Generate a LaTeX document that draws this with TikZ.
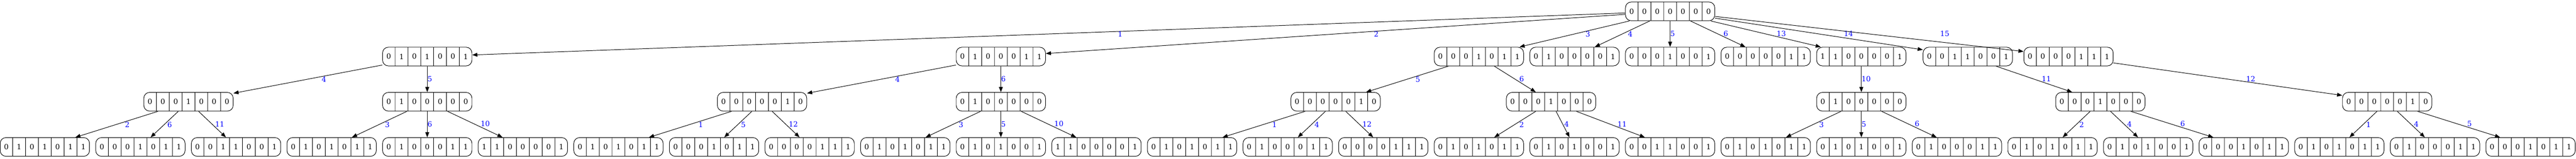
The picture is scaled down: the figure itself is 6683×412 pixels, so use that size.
\documentclass[tikz,border=0pt]{standalone}
\usepackage{fontspec}
\setmainfont{DejaVu Serif}
\usetikzlibrary{shapes.multipart,arrows.meta}

\newcommand{\bitrow}[7]{#1\nodepart{two}#2\nodepart{three}#3\nodepart{four}#4\nodepart{five}#5\nodepart{six}#6\nodepart{seven}#7}

\tikzset{
  bits/.style={draw, rectangle split, rectangle split horizontal, rectangle split parts=7,
    rounded corners=7.5pt, line width=0.65pt, text width=16pt, align=center,
    inner xsep=0pt, inner ysep=8.6pt, text height=6.8pt, text depth=0pt},
  link/.style={->, line width=0.65pt},
  lbl/.style={auto, text=blue, inner sep=0pt},
  lft/.style={lbl, pos=0.402},
  rgt/.style={lbl, pos=0.598},
  dwn/.style={lbl, pos=0.5}
}

\begin{document}
\begin{tikzpicture}[>={Triangle[length=6.7pt,width=5pt]}, x=0.5pt, y=-0.5pt, font=\fontsize{9.33}{11}\selectfont]
    \useasboundingbox (0,0) rectangle (6683,412);

    \node[bits] (v0) at (4332.8,29.5) {\bitrow0000000};

    \node[bits] (v1) at (1108.4,146.9) {\bitrow0101001};
    \node[bits] (v2) at (2596.6,146.9) {\bitrow0100011};
    \node[bits] (v3) at (3836.8,146.9) {\bitrow0001011};
    \node[bits] (v4) at (4084.8,146.9) {\bitrow0100001};
    \node[bits] (v5) at (4332.8,146.9) {\bitrow0001001};
    \node[bits] (v6) at (4580.8,146.9) {\bitrow0000011};
    \node[bits] (v7) at (4828.9,146.9) {\bitrow1100001};
    \node[bits] (v8) at (5105.0,146.9) {\bitrow0011001};
    \node[bits] (v9) at (5366.4,146.9) {\bitrow0000111};

    \node[bits] (v10) at (489.0,264.3) {\bitrow0001000};
    \node[bits] (v11) at (1108.4,264.3) {\bitrow0100000};
    \node[bits] (v12) at (1977.0,264.3) {\bitrow0000010};
    \node[bits] (v13) at (2596.6,264.3) {\bitrow0100000};
    \node[bits] (v14) at (3465.0,264.3) {\bitrow0000010};
    \node[bits] (v15) at (4024.0,264.3) {\bitrow0001000};
    \node[bits] (v16) at (4828.9,264.3) {\bitrow0100000};
    \node[bits] (v17) at (5449.0,264.3) {\bitrow0001000};
    \node[bits] (v18) at (6193.0,264.3) {\bitrow0000010};

    \node[bits] (v19) at (116.3,381.7) {\bitrow0101011};
    \node[bits] (v20) at (364.3,381.7) {\bitrow0001011};
    \node[bits] (v21) at (612.4,381.7) {\bitrow0011001};
    \node[bits] (v22) at (860.4,381.7) {\bitrow0101011};
    \node[bits] (v23) at (1108.4,381.7) {\bitrow0100011};
    \node[bits] (v24) at (1356.5,381.7) {\bitrow1100001};
    \node[bits] (v25) at (1604.5,381.7) {\bitrow0101011};
    \node[bits] (v26) at (1852.5,381.7) {\bitrow0001011};
    \node[bits] (v27) at (2100.5,381.7) {\bitrow0000111};
    \node[bits] (v28) at (2348.6,381.7) {\bitrow0101011};
    \node[bits] (v29) at (2596.6,381.7) {\bitrow0101001};
    \node[bits] (v30) at (2844.6,381.7) {\bitrow1100001};
    \node[bits] (v31) at (3092.7,381.7) {\bitrow0101011};
    \node[bits] (v32) at (3340.7,381.7) {\bitrow0100011};
    \node[bits] (v33) at (3588.7,381.7) {\bitrow0000111};
    \node[bits] (v34) at (3836.8,381.7) {\bitrow0101011};
    \node[bits] (v35) at (4084.8,381.7) {\bitrow0101001};
    \node[bits] (v36) at (4332.8,381.7) {\bitrow0011001};
    \node[bits] (v37) at (4580.8,381.7) {\bitrow0101011};
    \node[bits] (v38) at (4828.9,381.7) {\bitrow0101001};
    \node[bits] (v39) at (5076.9,381.7) {\bitrow0100011};
    \node[bits] (v40) at (5324.9,381.7) {\bitrow0101011};
    \node[bits] (v41) at (5573.0,381.7) {\bitrow0101001};
    \node[bits] (v42) at (5821.0,381.7) {\bitrow0001011};
    \node[bits] (v43) at (6069.0,381.7) {\bitrow0101011};
    \node[bits] (v44) at (6317.1,381.7) {\bitrow0100011};
    \node[bits] (v45) at (6565.1,381.7) {\bitrow0001011};

    % root
    \draw[link] (v0) -- node[lft, pos=0.438] {1} (v1);
    \draw[link] (v0) -- node[lft, pos=0.434] {2} (v2);
    \draw[link] (v0) -- node[lft] {3} (v3);
    \draw[link] (v0) -- node[lft] {4} (v4);
    \draw[link] (v0) -- node[dwn] {5} (v5);
    \draw[link] (v0) -- node[rgt] {6} (v6);
    \draw[link] (v0) -- node[rgt] {13} (v7);
    \draw[link] (v0) -- node[rgt, pos=0.582, xshift=10pt] {14} (v8);
    \draw[link] (v0) -- node[rgt, pos=0.574, xshift=62pt] {15} (v9);

    % second row
    \draw[link] (v1) -- node[lft, pos=0.409] {4} (v10);
    \draw[link] (v1) -- node[dwn] {5} (v11);
    \draw[link] (v2) -- node[lft, pos=0.409] {4} (v12);
    \draw[link] (v2) -- node[dwn] {6} (v13);
    \draw[link] (v3) -- node[lft] {5} (v14);
    \draw[link] (v3) -- node[rgt] {6} (v15);
    \draw[link] (v7) -- node[dwn] {10} (v16);
    \draw[link] (v8) -- node[rgt] {11} (v17);
    \draw[link] (v9) -- node[rgt, pos=0.579] {12} (v18);

    % leaves
    \draw[link] (v10) -- node[lft] {2} (v19);
    \draw[link] (v10) -- node[lft] {6} (v20);
    \draw[link] (v10) -- node[rgt] {11} (v21);
    \draw[link] (v11) -- node[lft] {3} (v22);
    \draw[link] (v11) -- node[dwn] {6} (v23);
    \draw[link] (v11) -- node[rgt] {10} (v24);
    \draw[link] (v12) -- node[lft] {1} (v25);
    \draw[link] (v12) -- node[lft] {5} (v26);
    \draw[link] (v12) -- node[rgt] {12} (v27);
    \draw[link] (v13) -- node[lft] {3} (v28);
    \draw[link] (v13) -- node[dwn] {5} (v29);
    \draw[link] (v13) -- node[rgt] {10} (v30);
    \draw[link] (v14) -- node[lft] {1} (v31);
    \draw[link] (v14) -- node[lft] {4} (v32);
    \draw[link] (v14) -- node[rgt] {12} (v33);
    \draw[link] (v15) -- node[lft] {2} (v34);
    \draw[link] (v15) -- node[rgt] {4} (v35);
    \draw[link] (v15) -- node[rgt] {11} (v36);
    \draw[link] (v16) -- node[lft] {3} (v37);
    \draw[link] (v16) -- node[dwn] {5} (v38);
    \draw[link] (v16) -- node[rgt] {6} (v39);
    \draw[link] (v17) -- node[lft] {2} (v40);
    \draw[link] (v17) -- node[rgt] {4} (v41);
    \draw[link] (v17) -- node[rgt] {6} (v42);
    \draw[link] (v18) -- node[lft] {1} (v43);
    \draw[link] (v18) -- node[rgt] {4} (v44);
    \draw[link] (v18) -- node[rgt] {5} (v45);

\end{tikzpicture}
\end{document}
